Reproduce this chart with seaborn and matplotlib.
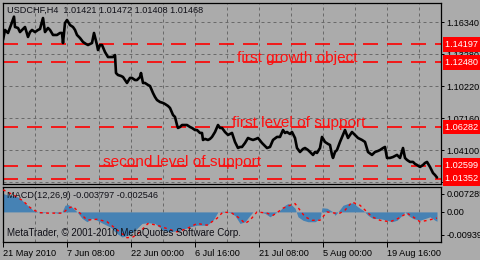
import matplotlib
matplotlib.use("Agg")
import matplotlib.pyplot as plt
from matplotlib.ticker import MultipleLocator
import seaborn as sns
import pandas as pd

# ---------------- data ----------------
bar_idx = [0, 2, 5, 8, 11, 12, 15, 17, 20, 22, 25, 27, 29, 32, 35, 37, 40, 42, 45, 47,
           50, 54, 57, 59, 60, 62, 64, 67, 70, 72, 74, 77, 80, 83, 85, 87, 89, 91, 94, 95,
           97, 99, 102, 105, 107, 110, 112, 113, 115, 118, 120, 122, 124, 127, 129, 132, 134, 137, 138, 140,
           142, 145, 147, 150, 152, 154, 157, 160, 162, 165, 167, 170, 172, 174, 175, 177, 179, 182, 184, 187,
           189, 192, 194, 197, 199, 200, 202, 205, 207, 209, 212, 215, 217, 219, 222, 225, 227, 229, 232, 235,
           237, 239, 242, 245, 247, 250, 253, 255, 259, 262, 264, 267, 270, 274, 277, 280, 282, 284, 287, 289,
           292, 294, 297, 300, 302, 305, 307, 310, 312, 314, 317, 319, 322, 325, 327, 329, 330, 332, 334, 337,
           340, 342, 345, 347, 349, 352, 355, 359, 362, 365, 369, 372, 375, 377, 380, 382, 384, 387, 390, 394,
           397, 400, 402, 404, 407, 410, 412, 414, 417, 420, 422, 424, 427, 430, 432, 434]
close = [1.1462, 1.1558, 1.1529, 1.1605, 1.1685, 1.1586, 1.1577, 1.1538, 1.1567, 1.1586, 1.1491, 1.1538, 1.1558, 1.1538, 1.1558, 1.1567, 1.1672, 1.1538, 1.1577, 1.1558,
         1.1510, 1.1510, 1.1529, 1.1529, 1.1433, 1.1624, 1.1653, 1.1605, 1.1586, 1.1558, 1.1510, 1.1481, 1.1443, 1.1424, 1.1414, 1.1424, 1.1433, 1.1529, 1.1414, 1.1366,
         1.1414, 1.1414, 1.1347, 1.1299, 1.1299, 1.1299, 1.1318, 1.1146, 1.1127, 1.1118, 1.1108, 1.1079, 1.1051, 1.1099, 1.1099, 1.1079, 1.1079, 1.1108, 1.1146, 1.1051,
         1.1051, 1.1032, 1.1022, 1.0955, 1.0917, 1.0888, 1.0869, 1.0860, 1.0850, 1.0831, 1.0812, 1.0745, 1.0726, 1.0649, 1.0621, 1.0630, 1.0649, 1.0649, 1.0649, 1.0630,
         1.0621, 1.0601, 1.0601, 1.0573, 1.0573, 1.0506, 1.0516, 1.0506, 1.0516, 1.0535, 1.0582, 1.0649, 1.0621, 1.0621, 1.0582, 1.0554, 1.0563, 1.0573, 1.0487, 1.0429,
         1.0439, 1.0439, 1.0477, 1.0525, 1.0516, 1.0506, 1.0516, 1.0525, 1.0477, 1.0449, 1.0429, 1.0439, 1.0506, 1.0535, 1.0535, 1.0601, 1.0573, 1.0582, 1.0563, 1.0582,
         1.0525, 1.0429, 1.0391, 1.0420, 1.0429, 1.0410, 1.0391, 1.0363, 1.0391, 1.0382, 1.0429, 1.0535, 1.0487, 1.0468, 1.0458, 1.0363, 1.0334, 1.0391, 1.0410, 1.0487,
         1.0554, 1.0601, 1.0525, 1.0554, 1.0582, 1.0554, 1.0525, 1.0506, 1.0487, 1.0391, 1.0363, 1.0391, 1.0401, 1.0410, 1.0429, 1.0439, 1.0334, 1.0334, 1.0343, 1.0363,
         1.0334, 1.0429, 1.0334, 1.0315, 1.0296, 1.0296, 1.0277, 1.0267, 1.0248, 1.0267, 1.0286, 1.0296, 1.0248, 1.0190, 1.0171, 1.01468]

macd_idx = [0, 5, 12, 17, 22, 27, 30, 34, 37, 42, 47, 52, 55, 59, 62, 65, 69, 74, 79, 84,
            89, 94, 100, 107, 114, 119, 125, 132, 139, 145, 152, 160, 167, 177, 187, 194, 204, 210, 215, 220,
            227, 232, 237, 242, 247, 250, 257, 262, 267, 272, 277, 282, 285, 289, 292, 295, 300, 305, 312, 317,
            319, 324, 330, 332, 335, 340, 345, 350, 355, 360, 365, 370, 377, 384, 389, 394, 399, 402, 405, 410,
            417, 422, 427, 432, 434]
macd_main = [0.0075, 0.0068, 0.0066, 0.0056, 0.0035, 0.0019, 0.0007, 0.0002, -0.0005, -0.0002, 0.0, -0.0003, -0.0006, 0.0, 0.0027, 0.0030, 0.0020, 0.0, -0.0026, -0.0040,
             -0.0026, -0.0034, -0.0047, -0.0061, -0.0088, -0.0102, -0.0095, -0.0075, -0.0047, -0.0044, -0.0047, -0.0075, -0.0081, -0.0075, -0.0061, -0.0054, -0.0054, -0.0034, 0.0, 0.0003,
             -0.0003, -0.0015, -0.0047, -0.0040, -0.0014, 0.0, 0.0, -0.0006, -0.0020, -0.0006, 0.0007, 0.0027, 0.0034, 0.0027, 0.0015, -0.0020, -0.0034, -0.0040, -0.0040, -0.0027,
             0.0017, 0.0015, 0.0, -0.0014, 0.0, 0.0027, 0.0034, 0.0037, 0.0020, 0.0007, -0.0014, -0.0027, -0.0027, -0.0034, -0.0040, -0.0034, -0.0014, 0.0, -0.0014, -0.0027,
             -0.0034, -0.0027, -0.0020, -0.0034, -0.0038]

signal_idx = [0, 10, 20, 27, 32, 37, 45, 55, 60, 65, 70, 77, 84, 94, 104, 112, 124, 130, 137, 145,
              154, 164, 174, 184, 194, 204, 214, 220, 229, 237, 242, 247, 254, 264, 270, 275, 280, 287, 292, 297,
              302, 309, 317, 324, 332, 337, 342, 349, 357, 364, 369, 377, 387, 395, 404, 410, 417, 425, 434]
macd_signal = [0.0090, 0.0070, 0.0045, 0.0018, 0.0005, -0.0003, -0.0005, -0.0005, -0.0005, 0.0015, 0.0022, -0.0005, -0.0033, -0.0030, -0.0040, -0.0066, -0.0105, -0.0102, -0.0081, -0.0047,
               -0.0054, -0.0068, -0.0081, -0.0068, -0.0047, -0.0054, -0.0026, 0.0, -0.0005, -0.0027, -0.0047, -0.0034, 0.0, -0.0005, -0.0014, 0.0, 0.0015, 0.0027, 0.0034, 0.0007,
               -0.0020, -0.0034, -0.0034, 0.0, -0.0005, -0.0005, 0.0007, 0.0040, 0.0027, 0.0, -0.0020, -0.0034, -0.0040, -0.0027, -0.0005, -0.0020, -0.0040, -0.0034, -0.0025]

level_prices = [1.14197, 1.12480, 1.06282, 1.02599, 1.01352]
level_labels = ["1.14197", "1.12480", "1.06282", "1.02599", "1.01352"]
note_texts = ["first growth object", "first level of support", "second level of support"]
note_prices = [1.12480, 1.06282, 1.02599]
note_bars = [234, 229, 100]

price_ticks = [1.16340, 1.13280, 1.10220, 1.07160, 1.04100, 1.01040]
price_tick_labels = ["1.16340", "1.13280", "1.10220", "1.07160", "1.04100", ""]
time_ticks = [0, 64, 128, 192, 256, 320, 384]
time_labels = ["21 May 2010", "7 Jun 08:00", "22 Jun 00:00", "6 Jul 16:00",
               "21 Jul 08:00", "5 Aug 00:00", "19 Aug 16:00"]
macd_ticks = [0.007285, 0.0, -0.00939]
macd_tick_labels = ["0.007285", "0.00", "-0.00939"]

header = "USDCHF,H4  1.01421 1.01472 1.01408 1.01468"
macd_header = "MACD(12,26,9) -0.003797 -0.002546"
footer = "MetaTrader, \u00a9 2001-2010 MetaQuotes Software Corp."

# ---------------- style ----------------
BG = "#ABABAB"
GRID = "#6A6A6A"
sns.set_style("ticks", {"axes.facecolor": BG, "figure.facecolor": BG})
plt.rcParams["font.family"] = ["Liberation Sans", "DejaVu Sans"]
SMALL = 6.6

W, H = 480, 260
fig = plt.figure(figsize=(W / 100, H / 100), dpi=100, facecolor=BG)


def px_axes(x0, y0, x1, y1):
    return fig.add_axes([x0 / W, 1 - y1 / H, (x1 - x0) / W, (y1 - y0) / H])


ax = px_axes(3, 3, 441, 184)
ax2 = px_axes(3, 187, 441, 242)

for a in (ax, ax2):
    a.set_facecolor(BG)
    for s in a.spines.values():
        s.set_visible(True)
        s.set_color("black")
        s.set_linewidth(0.9)
    a.set_xlim(0, 438)
    a.xaxis.set_minor_locator(MultipleLocator(32))
    a.grid(True, which="both", axis="x", color=GRID, linestyle=(0, (3, 3)), linewidth=0.72)
    a.yaxis.tick_right()
    a.tick_params(axis="y", direction="out", length=2.5, width=0.72, pad=1.5,
                  labelsize=SMALL, colors="black")
    a.tick_params(axis="x", which="minor", length=0)

# ---------------- price pane ----------------
ax.set_ylim(1.00849, 1.18157)
ax.set_yticks(price_ticks)
ax.set_yticklabels(price_tick_labels)
ax.grid(True, axis="y", color=GRID, linestyle=(0, (3, 3)), linewidth=0.72)
ax.set_xticks(time_ticks)
ax.tick_params(axis="x", which="major", length=0, labelbottom=False)

for p in level_prices:
    ax.axhline(p, color="#FF0000", linewidth=1.2, linestyle=(0, (9, 5.4)), zorder=2)

df_price = pd.DataFrame({"bar": bar_idx, "close": close})
sns.lineplot(data=df_price, x="bar", y="close", ax=ax, color="black",
             linewidth=1.9, estimator=None, sort=False, zorder=3)
ax.set_xlabel("")
ax.set_ylabel("")

for txt, p, b in zip(note_texts, note_prices, note_bars):
    ax.text(b, p, txt, color="#FF1010", fontsize=11.1, va="baseline", ha="left", zorder=4)

for p, lab in zip(level_prices, level_labels):
    ax.annotate(lab + "   ", xy=(1.0, p), xycoords=("axes fraction", "data"),
                xytext=(3.2, 0), textcoords="offset points", fontsize=SMALL,
                color="white", va="center", ha="left", annotation_clip=False,
                bbox=dict(boxstyle="square,pad=0.3", fc="#FF0000", ec="none"), zorder=5)

fig.text(7 / W, 1 - 10 / H, header, fontsize=SMALL, color="#101018", va="center", ha="left")

# ---------------- MACD pane ----------------
ax2.set_ylim(-0.01224, 0.01013)
ax2.set_yticks(macd_ticks)
ax2.set_yticklabels(macd_tick_labels)
ax2.fill_between(macd_idx, macd_main, 0, color="#4682B4", linewidth=0, zorder=2)
df_sig = pd.DataFrame({"bar": signal_idx, "signal": macd_signal})
sns.lineplot(data=df_sig, x="bar", y="signal", ax=ax2, color="#FF0000",
             linewidth=1.0, linestyle=(0, (2, 2.5)), estimator=None, sort=False, zorder=3)
ax2.set_xlabel("")
ax2.set_ylabel("")
ax2.set_xticks(time_ticks)
ax2.set_xticklabels(time_labels, ha="left")
ax2.tick_params(axis="x", which="major", direction="out", length=3.5, width=0.72,
                pad=1.5, labelsize=SMALL, colors="black")

fig.text(7 / W, 1 - 196 / H, macd_header, fontsize=SMALL, color="#101018", va="center", ha="left")
fig.text(7 / W, 1 - 233 / H, footer, fontsize=7.0, color="#101018", va="center", ha="left")

fig.savefig("out.png", dpi=100, facecolor=BG)
